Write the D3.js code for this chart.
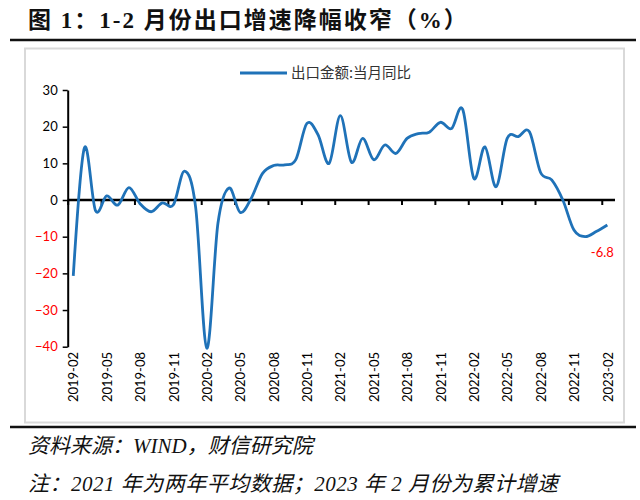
<!DOCTYPE html>
<html><head><meta charset="utf-8">
<script src="https://cdn.jsdelivr.net/npm/d3@7"></script>
<style>
html,body{margin:0;padding:0;background:#fff;}
svg{display:block;}
</style></head>
<body>
<svg id="chart" width="640" height="500"></svg>
<script>
const title = "图 1：1-2 月份出口增速降幅收窄（%）";
const seriesName = "出口金额:当月同比";
const source1 = "资料来源：WIND，财信研究院";
const source2 = "注：2021 年为两年平均数据；2023 年 2 月份为累计增速";
const months = ["2019-02","2019-03","2019-04","2019-05","2019-06","2019-07","2019-08","2019-09","2019-10","2019-11","2019-12",
"2020-01","2020-02","2020-03","2020-04","2020-05","2020-06","2020-07","2020-08","2020-09","2020-10","2020-11","2020-12",
"2021-01","2021-02","2021-03","2021-04","2021-05","2021-06","2021-07","2021-08","2021-09","2021-10","2021-11","2021-12",
"2022-01","2022-02","2022-03","2022-04","2022-05","2022-06","2022-07","2022-08","2022-09","2022-10","2022-11","2022-12",
"2023-01","2023-02"];
const values = [-20.7,14.2,-2.9,1.1,-1.4,3.4,-1.0,-3.2,-0.8,-1.3,7.9,
-2.0,-40.4,-6.4,3.3,-3.4,0.5,7.2,9.4,9.6,11.0,20.9,17.8,
10.0,23.0,10.3,16.8,11.0,15.0,12.7,16.8,18.1,18.5,21.2,19.5,
24.7,5.9,14.5,3.6,16.8,17.3,18.6,7.5,5.5,0.0,-8.2,-10.0,
-8.6,-6.8];
const xLabels = ["2019-02","2019-05","2019-08","2019-11","2020-02","2020-05","2020-08","2020-11","2021-02","2021-05","2021-08","2021-11","2022-02","2022-05","2022-08","2022-11","2023-02"];
const yTicks = [30,20,10,0,-10,-20,-30,-40];
const lastLabel = "-6.8";

const svg = d3.select("#chart");
const blue = "#1f72b8", red = "#ff0000";

// title & rules
svg.append("text").attr("x",28).attr("y",28)
  .style("font-family","'Liberation Serif','Noto Sans CJK SC',serif")
  .style("font-weight","bold").style("font-size","23px").style("letter-spacing","2px")
  .attr("fill","#111").text(title);
svg.append("line").attr("x1",10).attr("x2",636).attr("y1",40).attr("y2",40).attr("stroke","#111").attr("stroke-width",2.5);
svg.append("rect").attr("x",25).attr("y",48.5).attr("width",599).attr("height",374)
  .attr("fill","none").attr("stroke","#d9d9d9").attr("stroke-width",2);
svg.append("line").attr("x1",10).attr("x2",636).attr("y1",427).attr("y2",427).attr("stroke","#111").attr("stroke-width",2.5);

// scales
const x = d3.scaleLinear().domain([-0.5, months.length - 0.5]).range([67.7, 612.9]);
const y = d3.scaleLinear().domain([-40,30]).range([346.7, 90]);

// y axis
const gy = svg.append("g").attr("transform","translate(67.7,0)")
  .call(d3.axisLeft(y).tickValues(yTicks).tickSize(5).tickSizeOuter(0).tickFormat(d3.format("d")));
gy.select(".domain").attr("stroke","#000").attr("stroke-width",2);
gy.selectAll(".tick line").attr("stroke","#000").attr("stroke-width",1.5);
gy.selectAll(".tick text").attr("x",-10)
  .style("font-family","Lato,'Open Sans',sans-serif").style("font-size","13px")
  .attr("fill", d => d < 0 ? red : "#000");

// x axis at zero with ticks between categories every 3
const tickPos = [];
for (let i = 0; i < xLabels.length; i++) tickPos.push(months.indexOf(xLabels[i]) - 0.5);
const gx = svg.append("g").attr("transform",`translate(0,${y(0)})`)
  .call(d3.axisBottom(x).tickValues(tickPos).tickSize(5).tickSizeOuter(0).tickFormat(""));
gx.select(".domain").attr("stroke","#000").attr("stroke-width",2.5).attr("d",`M67.7,0H615`);
gx.selectAll(".tick line").attr("stroke","#000").attr("stroke-width",2);

// x labels
const gl = svg.append("g").attr("transform","translate(0,352)")
  .call(d3.axisBottom(x).tickValues(xLabels.map(l => months.indexOf(l))).tickSize(0).tickFormat(i => months[i]));
gl.select(".domain").remove();
gl.selectAll(".tick text").attr("transform","rotate(-90)").attr("text-anchor","end")
  .attr("x",0).attr("y",0).attr("dy","0.36em")
  .style("font-family","Lato,'Open Sans',sans-serif").style("font-size","13px").attr("fill","#000");

// line
const line = d3.line().x((d,i) => x(i)).y(d => y(d)).curve(d3.curveCardinal.tension(0));
svg.append("path").datum(values).attr("d", line).attr("fill","none")
  .attr("stroke", blue).attr("stroke-width",2.8).attr("stroke-linejoin","round");

// last value label
svg.append("text").attr("x", x(values.length-1)-5).attr("y", y(values[values.length-1]) + 32)
  .attr("text-anchor","middle").style("font-family","Lato,'Open Sans',sans-serif").style("font-size","13px")
  .attr("fill", red).text(lastLabel);

// legend
svg.append("line").attr("x1",240).attr("x2",287).attr("y1",73).attr("y2",73).attr("stroke",blue).attr("stroke-width",3);
svg.append("text").attr("x",291).attr("y",78).style("font-family","'Noto Sans CJK SC',sans-serif")
  .style("font-size","14.5px").attr("fill","#333").text(seriesName);

// footnotes
const fn = "'Liberation Serif','Noto Sans CJK SC',serif";
svg.append("text").attr("x",28).attr("y",453).style("font-family",fn).style("font-style","italic")
  .style("font-size","21px").attr("fill","#111").text(source1);
svg.append("text").attr("x",28).attr("y",491).style("font-family",fn).style("font-style","italic")
  .style("font-size","21px").style("letter-spacing","0.5px").attr("fill","#111").text(source2);
</script>
</body></html>
